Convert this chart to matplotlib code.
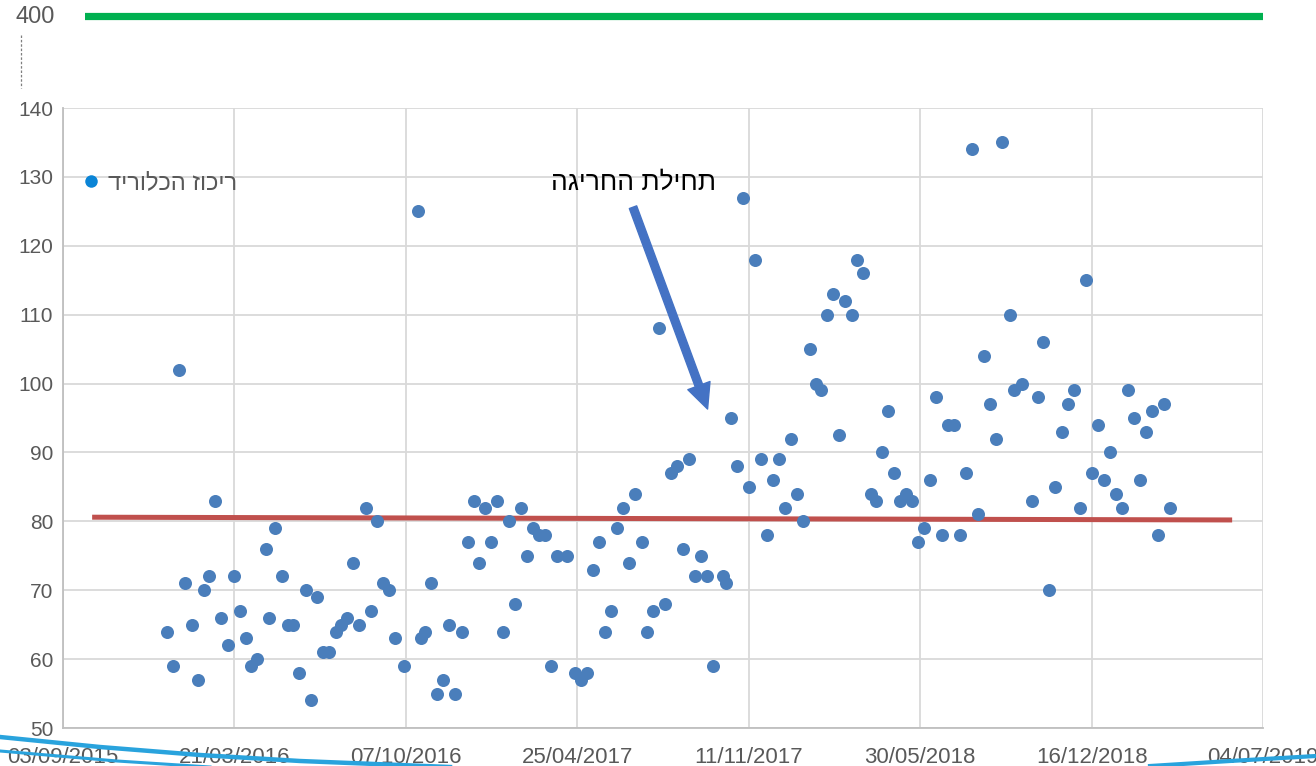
"""Chloride concentration scatter with reference line and annotation."""

import matplotlib
matplotlib.use("Agg")
import matplotlib.dates as mdates
import matplotlib.pyplot as plt
import pandas as pd
from matplotlib.lines import Line2D

plt.rcParams["font.family"] = ["Liberation Sans", "DejaVu Sans"]

# --- data -----------------------------------------------------------------
START = "2015-09-03"
day_offsets = [
    121, 128, 135, 142, 150, 157, 164, 170, 177, 184, 192, 199, 206, 213, 219,
    226, 237, 240, 247, 255, 262, 268, 275, 283, 289, 296, 303, 310, 318, 324,
    331, 338, 345, 353, 359, 366, 373, 380, 387, 398, 414, 418, 422, 429, 436,
    443, 450, 457, 465, 472, 479, 485, 492, 499, 506, 513, 520, 527, 534, 541,
    548, 555, 562, 569, 576, 588, 597, 604, 611, 618, 625, 632, 639, 646, 653,
    660, 667, 675, 681, 688, 695, 702, 709, 716, 723, 730, 737, 744, 751, 758,
    770, 773, 779, 786, 793, 800, 807, 814, 821, 828, 835, 842, 849, 856, 863,
    871, 878, 884, 891, 898, 905, 912, 920, 926, 933, 943, 948, 955, 962, 969,
    976, 983, 990, 997, 1004, 1011, 1018, 1025, 1032, 1039, 1046, 1053, 1060,
    1067, 1074, 1081, 1088, 1095, 1105, 1109, 1119, 1130, 1137, 1143, 1150,
    1157, 1165, 1172, 1179, 1186, 1193, 1200, 1207, 1214, 1221, 1228, 1235,
    1242, 1249, 1256, 1263, 1270, 1277, 1284, 1291,
]
chloride = [
    64, 59, 102, 71, 65, 57, 70, 72, 83, 66, 62, 72, 67, 63, 59,
    60, 76, 66, 79, 72, 65, 65, 58, 70, 54, 69, 61, 61, 64, 65,
    66, 74, 65, 82, 67, 80, 71, 70, 63, 59, 125, 63, 64, 71, 55,
    57, 65, 55, 64, 77, 83, 74, 82, 77, 83, 64, 80, 68, 82, 75,
    79, 78, 78, 59, 75, 75, 58, 57, 58, 73, 77, 64, 67, 79, 82,
    74, 84, 77, 64, 67, 108, 68, 87, 88, 76, 89, 72, 75, 72, 59,
    72, 71, 95, 88, 127, 85, 118, 89, 78, 86, 89, 82, 92, 84, 80,
    105, 100, 99, 110, 113, 92.5, 112, 110, 118, 116, 84, 83, 90, 96, 87,
    83, 84, 83, 77, 79, 86, 98, 78, 94, 94, 78, 87, 134,
    81, 104, 97, 92, 135, 110, 99, 100, 83, 98, 106, 70,
    85, 93, 97, 99, 82, 115, 87, 94, 86, 90, 84, 82,
    99, 95, 86, 93, 96, 78, 97, 82,
]
# reference line (start/end)
ref_days = [34, 1364]
ref_values = [80.6, 80.2]
limit_value = 400

series_label = "ריכוז הכלוריד"
annot_label = "תחילת החריגה"

x_start, x_end, x_step = 0, 1400, 200
y_min, y_max, y_step = 50, 140, 10


def rtl(s):
    # matplotlib has no bidi support: feed the glyphs in visual order
    return s[::-1]


start = pd.Timestamp(START)
dates = [start + pd.Timedelta(days=d) for d in day_offsets]
ref_dates = [start + pd.Timedelta(days=d) for d in ref_days]

W, H = 1316, 766
fig = plt.figure(figsize=(W / 100, H / 100), dpi=100)
ax = fig.add_axes([63 / W, 38 / H, 1200 / W, 620 / H])

grid_c = "#d9d9d9"
text_c = "#595959"
ax.scatter(dates, chloride, s=88, color="#4a7ebb", zorder=3, linewidths=0)
ax.plot(ref_dates, ref_values, color="#c0504d", lw=3.6, zorder=2,
        solid_capstyle="butt")

ax.set_xlim(start + pd.Timedelta(days=x_start), start + pd.Timedelta(days=x_end))
ax.set_ylim(y_min, y_max)
ax.set_xticks([start + pd.Timedelta(days=d) for d in range(x_start, x_end + 1, x_step)])
ax.xaxis.set_major_formatter(mdates.DateFormatter("%d/%m/%Y"))
ax.set_yticks(range(y_min, y_max + 1, y_step))
ax.grid(True, color=grid_c, lw=1.3, zorder=0)
ax.set_axisbelow(True)
for side in ("top", "right"):
    ax.spines[side].set_visible(False)
for side in ("left", "bottom"):
    ax.spines[side].set_color("#bfbfbf")
    ax.spines[side].set_linewidth(1.3)
ax.tick_params(axis="y", length=0, pad=7, labelsize=15, labelcolor=text_c)
ax.tick_params(axis="x", length=0, pad=14, labelsize=16, labelcolor=text_c)

# legend
handle = Line2D([], [], ls="none", marker="o", markersize=9,
                markerfacecolor="#0a84d6", markeredgewidth=0)
ax.legend([handle], [rtl(series_label)], loc="center left",
          bbox_to_anchor=(0.008, 0.879), frameon=False, fontsize=17,
          labelcolor=text_c, handlelength=1.0, handletextpad=0.2,
          borderpad=0, borderaxespad=0.3)

# annotation arrow
ax.annotate(
    "", xy=(start + pd.Timedelta(days=752), 96.3),
    xytext=(start + pd.Timedelta(days=665), 125.6),
    arrowprops=dict(arrowstyle="simple,head_length=0.9,head_width=0.85,tail_width=0.28",
                    color="#4472c4", mutation_scale=20, shrinkA=0, shrinkB=0),
    zorder=4,
)
ax.text(start + pd.Timedelta(days=666), 129.1, rtl(annot_label), fontsize=19,
        ha="center", va="center", color="black", zorder=4)

# upper strip with the 400 limit line
ax_top = fig.add_axes([85 / W, (H - 30) / H, 1178 / W, 28 / H])
ax_top.set_ylim(limit_value - 10, limit_value + 10)
ax_top.axhline(limit_value, color="#00b050", lw=5.2)
ax_top.axis("off")
fig.text(35 / W, 1 - 17 / H, str(limit_value), fontsize=17, color=text_c,
         ha="center", va="center")
fig.add_artist(Line2D([21 / W, 21 / W], [1 - 35 / H, 1 - 88 / H],
                      transform=fig.transFigure, color="#7f7f7f", lw=0.9,
                      ls=(0, (2, 1.5))))

# stray pen strokes along the bottom edge
pen_c = "#29a3dd"
fig.add_artist(Line2D([0, 100 / W, 200 / W, 300 / W, 450 / W],
                      [1 - 737 / H, 1 - 747 / H, 1 - 755 / H, 1 - 761 / H, 1 - 767 / H],
                      transform=fig.transFigure, color=pen_c, lw=3.2, zorder=5))
fig.add_artist(Line2D([0, 117 / W, 210 / W],
                      [1 - 751 / H, 1 - 761 / H, 1 - 767 / H],
                      transform=fig.transFigure, color=pen_c, lw=2.2, zorder=5))
fig.add_artist(Line2D([1150 / W, 1230 / W, 1316 / W],
                      [1 - 766 / H, 1 - 761 / H, 1 - 756 / H],
                      transform=fig.transFigure, color=pen_c, lw=3.0, zorder=5))

fig.savefig("out.png", dpi=100)
